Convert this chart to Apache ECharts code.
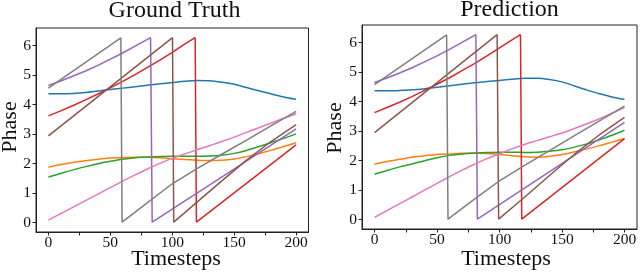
<!DOCTYPE html>
<html>
<head>
<meta charset="utf-8">
<script src="https://cdn.jsdelivr.net/npm/echarts@6/dist/echarts.min.js"></script>
<style>
html,body{margin:0;padding:0;background:#fff;}
#chart{width:640px;height:274px;}
</style>
</head>
<body>
<div id="chart"></div>
<script>
// ---------- data ----------
const panelTitles = ['Ground Truth', 'Prediction'];
const xName = 'Timesteps';
const yName = 'Phase';
const xLabelVals = [0, 50, 100, 150, 200];
const xTickVals = [0, 25, 50, 75, 100, 125, 150, 175, 200];
const yLabelVals = [0, 1, 2, 3, 4, 5, 6];
const xRange = [-10, 210];
const yRange = [-0.314, 6.597];
const colors = ['#1f77b4', '#ff7f0e', '#2ca02c', '#d62728', '#9467bd', '#8c564b', '#e377c2', '#7f7f7f'];

const steps = [0,10,20,30,40,50,60,70,80,90,100,110,120,130,140,150,160,170,180,190,200];

// Ground truth
const gtBlue   = [4.37,4.37,4.38,4.41,4.46,4.51,4.56,4.61,4.66,4.71,4.75,4.79,4.82,4.81,4.76,4.69,4.58,4.47,4.36,4.26,4.18];
const gtOrange = [1.88,1.97,2.04,2.10,2.15,2.19,2.21,2.22,2.22,2.20,2.17,2.14,2.12,2.11,2.12,2.16,2.24,2.34,2.46,2.58,2.71];
const gtGreen  = [1.55,1.67,1.79,1.90,2.00,2.08,2.15,2.20,2.23,2.24,2.25,2.25,2.25,2.26,2.29,2.35,2.45,2.58,2.72,2.86,3.01];
const gtPink   = [0.09,0.31,0.53,0.75,0.97,1.19,1.41,1.62,1.82,2.01,2.18,2.33,2.47,2.61,2.75,2.90,3.06,3.22,3.38,3.54,3.69];
const gtRed    = [[0,3.62],[10,3.79],[20,3.97],[30,4.16],[40,4.36],[50,4.57],[60,4.79],[70,5.02],[80,5.26],[90,5.51],[100,5.77],[110,6.05],[118.5,6.27],[119.5,0.02],[200,2.64]];
const gtPurple = [[0,4.65],[10,4.80],[20,4.97],[30,5.14],[40,5.33],[50,5.54],[60,5.75],[70,5.98],[82.5,6.27],[83.8,0.02],[200,3.18]];
const gtBrown  = [[0,2.94],[100.2,6.27],[101.2,0.02],[120,0.70],[140,1.42],[160,2.12],[180,2.76],[200,3.32]];
const gtGray   = [[0,4.56],[58.5,6.26],[59.5,0.02],[80,0.68],[100,1.32],[120,1.83],[140,2.32],[160,2.80],[180,3.29],[200,3.77]];

// Prediction
const pdBlue   = [4.37,4.37,4.38,4.40,4.44,4.49,4.54,4.59,4.64,4.68,4.72,4.76,4.79,4.79,4.75,4.67,4.53,4.39,4.27,4.16,4.08];
const pdOrange = [1.88,1.97,2.05,2.12,2.17,2.21,2.23,2.25,2.25,2.24,2.21,2.17,2.13,2.12,2.15,2.21,2.30,2.40,2.51,2.63,2.75];
const pdGreen  = [1.54,1.67,1.79,1.89,2.00,2.10,2.18,2.23,2.26,2.28,2.29,2.29,2.28,2.29,2.32,2.37,2.46,2.57,2.71,2.86,3.03];
const pdPink   = [0.08,0.31,0.54,0.77,1.00,1.23,1.46,1.68,1.88,2.07,2.23,2.40,2.55,2.68,2.81,2.94,3.09,3.25,3.42,3.61,3.81];
const pdRed    = [[0,3.63],[10,3.80],[20,3.98],[30,4.17],[40,4.38],[50,4.59],[60,4.81],[70,5.05],[80,5.29],[90,5.55],[100,5.82],[110,6.09],[116.8,6.27],[117.8,0.02],[200,2.75]];
const pdPurple = [[0,4.65],[10,4.80],[20,4.97],[30,5.15],[40,5.35],[50,5.55],[60,5.77],[70,6.01],[81.1,6.27],[82.3,0.02],[200,3.30]];
const pdBrown  = [[0,2.95],[98.1,6.27],[99.3,0.02],[120,0.76],[140,1.50],[160,2.22],[180,2.88],[200,3.47]];
const pdGray   = [[0,4.58],[57.7,6.26],[58.8,0.02],[80,0.70],[100,1.32],[120,1.84],[140,2.34],[160,2.85],[180,3.35],[200,3.85]];

// ---------- build ----------
const FONT = "'Liberation Serif', 'Times New Roman', serif";
const pair = vals => steps.map((t, i) => [t, vals[i]]);

const panels = [
  [pair(gtBlue), pair(gtOrange), pair(gtGreen), gtRed, gtPurple, gtBrown, pair(gtPink), gtGray],
  [pair(pdBlue), pair(pdOrange), pair(pdGreen), pdRed, pdPurple, pdBrown, pair(pdPink), pdGray]
];
const smoothFlags = [true, true, true, false, false, false, true, false];

const series = [];
panels.forEach((lines, p) => {
  lines.forEach((d, k) => {
    series.push({
      type: 'line',
      xAxisIndex: p,
      yAxisIndex: p,
      data: d,
      showSymbol: false,
      symbol: 'none',
      smooth: smoothFlags[k] ? 0.3 : false,
      lineStyle: { color: colors[k], width: 1.5 },
      itemStyle: { color: colors[k] },
      z: 2 + k
    });
  });
});

const axisColor = '#222';
const mkX = i => ({
  gridIndex: i, type: 'value', min: xRange[0], max: xRange[1],
  splitLine: { show: false },
  axisLine: { show: true, onZero: false, lineStyle: { color: axisColor, width: 1 } },
  axisTick: { show: true, customValues: xTickVals, length: 3.5, lineStyle: { color: axisColor, width: 1 } },
  axisLabel: { customValues: xLabelVals, fontSize: 15.5, fontFamily: FONT, color: '#111', margin: 3 }
});
const mkY = i => ({
  gridIndex: i, type: 'value', min: yRange[0], max: yRange[1],
  splitLine: { show: false },
  axisLine: { show: true, onZero: false, lineStyle: { color: axisColor, width: 1 } },
  axisTick: { show: true, customValues: yLabelVals, length: 3.5, lineStyle: { color: axisColor, width: 1 } },
  axisLabel: { customValues: yLabelVals, fontSize: 15.5, fontFamily: FONT, color: '#111', margin: 5 }
});

const txt = (s, x, y, size, rot) => ({
  type: 'text', x: x, y: y, rotation: rot || 0,
  style: { text: s, font: size + 'px ' + FONT, fill: '#111', align: 'center', verticalAlign: 'middle' }
});

const option = {
  animation: false,
  backgroundColor: '#fff',
  grid: [
    { left: 36, right: 331.5, top: 28, bottom: 42, show: true, borderColor: axisColor, borderWidth: 1 },
    { left: 362, right: 3, top: 25, bottom: 45, show: true, borderColor: axisColor, borderWidth: 1 }
  ],
  xAxis: [mkX(0), mkX(1)],
  yAxis: [mkY(0), mkY(1)],
  series: series,
  graphic: [
    txt(panelTitles[0], 174.5, 11, 24),
    txt(panelTitles[1], 509.5, 10, 24),
    txt(xName, 176, 259, 22),
    txt(xName, 506, 259, 22),
    txt(yName, 10, 127, 22, Math.PI / 2),
    txt(yName, 335, 128, 22, Math.PI / 2)
  ]
};

const chart = echarts.init(document.getElementById('chart'), null, { renderer: 'canvas', width: 640, height: 274 });
chart.setOption(option);
</script>
</body>
</html>
